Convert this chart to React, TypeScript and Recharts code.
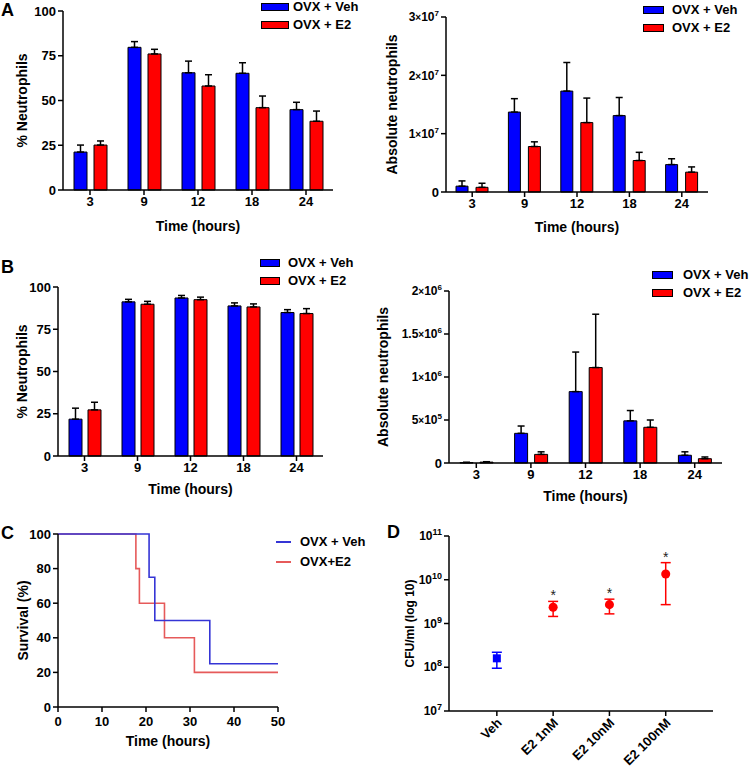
import { Bar, BarChart, ErrorBar, Line, LineChart, Scatter, ScatterChart, XAxis, YAxis, ZAxis } from 'recharts'

const hours = ['3', '9', '12', '18', '24']
const groupNames = ['OVX + Veh', 'OVX + E2']
const barColors = ['#0000ff', '#ff0000']

// A: % and absolute neutrophils (blood)
const pctVehA = [21.2, 79.7, 65.5, 65.2, 44.9]
const pctVehErrA = [3.9, 3.2, 6.5, 5.9, 4.1]
const pctE2A = [25.1, 76, 58.1, 46, 38.4]
const pctE2ErrA = [2.3, 2.6, 6.3, 6.5, 5.7]
const absVehA = [0.1e7, 1.37e7, 1.73e7, 1.31e7, 0.47e7]
const absVehErrA = [0.09e7, 0.23e7, 0.49e7, 0.31e7, 0.1e7]
const absE2A = [0.08e7, 0.78e7, 1.19e7, 0.54e7, 0.34e7]
const absE2ErrA = [0.07e7, 0.08e7, 0.42e7, 0.14e7, 0.09e7]

// B: % and absolute neutrophils (lavage)
const pctVehB = [21.8, 91.2, 93.5, 88.8, 84.9]
const pctVehErrB = [6.5, 1.5, 1.5, 1.8, 1.7]
const pctE2B = [27.3, 89.8, 92.5, 88.2, 84.3]
const pctE2ErrB = [4.5, 1.7, 1.5, 1.8, 2.9]
const absVehB = [0.05e5, 3.45e5, 8.3e5, 4.9e5, 0.9e5]
const absVehErrB = [0.03e5, 0.85e5, 4.6e5, 1.2e5, 0.4e5]
const absE2B = [0.1e5, 1.0e5, 11.1e5, 4.15e5, 0.5e5]
const absE2ErrB = [0.05e5, 0.3e5, 6.2e5, 0.85e5, 0.2e5]

// C: survival
const survivalNames = ['OVX + Veh', 'OVX+E2']
const survivalColors = ['#3535d5', '#e65a5a']
const vehTimes = [0, 20.7, 22, 34.5, 50]
const vehSurvival = [100, 75, 50, 25, 25]
const e2Times = [0, 17.7, 18.5, 24.2, 31, 50]
const e2Survival = [100, 80, 60, 40, 20, 20]

// D: CFU/ml
const cfuGroups = ['Veh', 'E2 1nM', 'E2 10nM', 'E2 100nM']
const cfuMean = [1.6e8, 2.35e9, 2.7e9, 1.35e10]
const cfuLow = [0.95e8, 1.45e9, 1.66e9, 2.7e9]
const cfuHigh = [2.2e8, 3.2e9, 3.6e9, 2.46e10]
const cfuSignificant = [false, true, true, true]

const barRows = (veh: number[], vehErr: number[], e2: number[], e2Err: number[]) =>
  hours.map((h, i) => ({ h, veh: veh[i], vehErr: [0, vehErr[i]], e2: e2[i], e2Err: [0, e2Err[i]] }))

const cfuRows = cfuGroups.map((g, i) => ({ i, cfu: cfuMean[i], err: [cfuMean[i] - cfuLow[i], cfuHigh[i] - cfuMean[i]], sig: cfuSignificant[i] }))
const vehCfu = cfuRows.filter((r) => r.i === 0)
const e2Cfu = cfuRows.filter((r) => r.i > 0)
const stars = cfuRows.filter((r) => r.sig).map((r) => ({ i: r.i, cfu: cfuHigh[r.i] }))

const axisLine = { stroke: '#000', strokeWidth: 1.5 }
const tickFont = { fill: '#000', fontSize: 13, fontWeight: 'bold' }
const titleStyle = (size = 14) => ({ textAnchor: 'middle', fontSize: size, fontWeight: 'bold', fill: '#000' })

function SciTick({ x, y, payload }: any) {
  const v = payload.value
  if (v === 0) {
    return <text x={x} y={y} dy="0.35em" textAnchor="end" fontSize={13} fontWeight="bold" fill="#000">0</text>
  }
  const exp = Math.floor(Math.log10(v) + 1e-9)
  const mant = Number((v / 10 ** exp).toFixed(2))
  return (
    <text x={x} y={y} dy="0.35em" textAnchor="end" fontSize={12} fontWeight="bold" fill="#000">
      {mant}
      <tspan fontSize={10}>×</tspan>10
      <tspan dy={-5} fontSize={8}>{exp}</tspan>
    </text>
  )
}

function PowerTick({ x, y, payload }: any) {
  const exp = Math.round(Math.log10(payload.value))
  return (
    <text x={x} y={y} dy="0.35em" textAnchor="end" fontSize={12} fontWeight="bold" fill="#000">
      10<tspan dy={-5} fontSize={9}>{exp}</tspan>
    </text>
  )
}

function GroupTick({ x, y, payload }: any) {
  return (
    <g transform={`translate(${x},${y})`}>
      <text x={0} y={0} dy={8} textAnchor="end" transform="rotate(-45)" fontSize={13} fontWeight="bold" fill="#000">
        {cfuGroups[payload.value]}
      </text>
    </g>
  )
}

function Star({ cx, cy }: any) {
  return <text x={cx} y={cy - 1} textAnchor="middle" fontSize={14} fill="#222">*</text>
}

function SeriesLegend({ x, w, rows, textX, names, colors, line }: any) {
  return (
    <>
      {names.map((n: string, k: number) => (
        <div key={n}>
          <div
            style={{
              position: 'absolute', left: x, top: rows[k] - (line ? 1 : 4), width: w, height: line ? 2 : 6,
              background: colors[k], border: line ? 'none' : '1px solid #000',
            }}
          />
          <div style={{ position: 'absolute', left: textX, top: rows[k] - 8, fontSize: 13, fontWeight: 'bold', lineHeight: '16px', whiteSpace: 'nowrap' }}>{n}</div>
        </div>
      ))}
    </>
  )
}

function PanelLetter({ x, y, t }: { x: number; y: number; t: string }) {
  return <div style={{ position: 'absolute', left: x, top: y, fontSize: 18, fontWeight: 'bold', lineHeight: 1 }}>{t}</div>
}

type BarPanelProps = {
  left: number; top: number; width: number; height: number
  margin: { top: number; right: number }
  yWidth: number; xHeight: number; xTitleBase: number
  data: any[]; ticks: number[]; sci?: boolean
  yTitle: string; yTitleX: number; barSize: number; barGap: number
}

function BarPanel(p: BarPanelProps) {
  return (
    <div style={{ position: 'absolute', left: p.left, top: p.top }}>
      <BarChart width={p.width} height={p.height} data={p.data} barSize={p.barSize} barGap={p.barGap} margin={{ top: p.margin.top, right: p.margin.right, left: 0, bottom: 0 }}>
        <XAxis
          dataKey="h" height={p.xHeight} tickSize={5} tick={tickFont} tickLine={axisLine} axisLine={axisLine}
          label={{ value: 'Time (hours)', position: 'insideBottom', offset: p.xHeight - p.xTitleBase, style: titleStyle() }}
        />
        <YAxis
          width={p.yWidth} domain={[p.ticks[0], p.ticks[p.ticks.length - 1]]} ticks={p.ticks} interval={0} tickSize={5}
          tick={p.sci ? <SciTick /> : tickFont} tickLine={axisLine} axisLine={axisLine}
          label={{ value: p.yTitle, angle: -90, position: 'insideLeft', offset: p.yTitleX, style: titleStyle() }}
        />
        <Bar dataKey="veh" fill={barColors[0]} stroke="#000" strokeWidth={1} isAnimationActive={false}>
          <ErrorBar dataKey="vehErr" direction="y" width={3.5} stroke="#000" strokeWidth={1.5} />
        </Bar>
        <Bar dataKey="e2" fill={barColors[1]} stroke="#000" strokeWidth={1} isAnimationActive={false}>
          <ErrorBar dataKey="e2Err" direction="y" width={3.5} stroke="#000" strokeWidth={1.5} />
        </Bar>
      </BarChart>
    </div>
  )
}

export default function App() {
  const vehLine = vehTimes.map((t, i) => ({ t, s: vehSurvival[i] }))
  const e2Line = e2Times.map((t, i) => ({ t, s: e2Survival[i] }))
  return (
    <div style={{ position: 'absolute', left: 0, top: 0, width: 750, height: 767, background: '#fff', fontFamily: "'Liberation Sans', Arial, sans-serif", color: '#000' }}>
      <BarPanel
        left={0} top={0} width={345} height={240} margin={{ top: 11, right: 12 }} yWidth={63} xHeight={50} xTitleBase={41}
        data={barRows(pctVehA, pctVehErrA, pctE2A, pctE2ErrA)} ticks={[0, 25, 50, 75, 100]}
        yTitle="% Neutrophils" yTitleX={22} barSize={13} barGap={7}
      />
      <BarPanel
        left={375} top={0} width={375} height={245} margin={{ top: 17, right: 42 }} yWidth={71} xHeight={53} xTitleBase={40}
        data={barRows(absVehA, absVehErrA, absE2A, absE2ErrA)} ticks={[0, 1e7, 2e7, 3e7]} sci
        yTitle="Absolute neutrophils" yTitleX={17} barSize={12} barGap={8}
      />
      <BarPanel
        left={0} top={250} width={345} height={250} margin={{ top: 37, right: 22 }} yWidth={58} xHeight={44} xTitleBase={38}
        data={barRows(pctVehB, pctVehErrB, pctE2B, pctE2ErrB)} ticks={[0, 25, 50, 75, 100]}
        yTitle="% Neutrophils" yTitleX={22} barSize={13} barGap={6}
      />
      <BarPanel
        left={375} top={250} width={375} height={260} margin={{ top: 41, right: 28 }} yWidth={74} xHeight={47} xTitleBase={38}
        data={barRows(absVehB, absVehErrB, absE2B, absE2ErrB)} ticks={[0, 5e5, 1e6, 1.5e6, 2e6]} sci
        yTitle="Absolute neutrophils" yTitleX={8} barSize={13} barGap={7}
      />

      <div style={{ position: 'absolute', left: 0, top: 510 }}>
        <LineChart width={375} height={257} margin={{ top: 24, right: 97, left: 0, bottom: 0 }}>
          <XAxis
            type="number" dataKey="t" domain={[0, 50]} ticks={[0, 10, 20, 30, 40, 50]} height={60} tickSize={5} tickMargin={5}
            tick={tickFont} tickLine={axisLine} axisLine={axisLine}
            label={{ value: 'Time (hours)', position: 'insideBottom', offset: 60 - 39, style: titleStyle() }}
          />
          <YAxis
            type="number" domain={[0, 100]} ticks={[0, 20, 40, 60, 80, 100]} width={58} tickSize={5}
            tick={tickFont} tickLine={axisLine} axisLine={axisLine}
            label={{ value: 'Survival (%)', angle: -90, position: 'insideLeft', offset: 23, style: titleStyle() }}
          />
          <Line data={e2Line} dataKey="s" type="stepAfter" stroke={survivalColors[1]} strokeWidth={1.6} dot={false} isAnimationActive={false} />
          <Line data={vehLine} dataKey="s" type="stepAfter" stroke={survivalColors[0]} strokeWidth={1.6} dot={false} isAnimationActive={false} />
        </LineChart>
      </div>

      <div style={{ position: 'absolute', left: 375, top: 510 }}>
        <ScatterChart width={375} height={257} margin={{ top: 26, right: 37, left: 0, bottom: 0 }}>
          <XAxis
            type="number" dataKey="i" domain={[-0.85, 3.84]} ticks={[0, 1, 2, 3]} interval={0} height={56} tickSize={5}
            tick={<GroupTick />} tickLine={axisLine} axisLine={axisLine}
          />
          <YAxis
            type="number" dataKey="cfu" scale="log" domain={[1e7, 1e11]} ticks={[1e7, 1e8, 1e9, 1e10, 1e11]} interval={0}
            allowDataOverflow width={74} tickSize={5} tick={<PowerTick />} tickLine={axisLine} axisLine={axisLine}
            label={{ value: 'CFU/ml (log 10)', angle: -90, position: 'insideLeft', offset: 35, style: titleStyle(12) }}
          />
          <ZAxis range={[80, 80]} />
          <Scatter data={vehCfu} fill="#0000ff" shape="square" isAnimationActive={false}>
            <ErrorBar dataKey="err" direction="y" width={5} stroke="#0000ff" strokeWidth={1.5} />
          </Scatter>
          <Scatter data={e2Cfu} fill="#ff0000" shape="circle" isAnimationActive={false}>
            <ErrorBar dataKey="err" direction="y" width={5} stroke="#ff0000" strokeWidth={1.5} />
          </Scatter>
          <Scatter data={stars} shape={<Star />} isAnimationActive={false} />
        </ScatterChart>
      </div>

      <SeriesLegend x={261} w={26} rows={[7, 25]} textX={293} names={groupNames} colors={barColors} />
      <SeriesLegend x={643} w={19} rows={[10, 28]} textX={672} names={groupNames} colors={barColors} />
      <SeriesLegend x={260} w={18} rows={[263, 281]} textX={288} names={groupNames} colors={barColors} />
      <SeriesLegend x={652} w={19} rows={[275, 293]} textX={683} names={groupNames} colors={barColors} />
      <SeriesLegend x={276} w={15} rows={[542, 562]} textX={300} names={survivalNames} colors={survivalColors} line />

      <PanelLetter x={1} y={1} t="A" />
      <PanelLetter x={1} y={258} t="B" />
      <PanelLetter x={1} y={524} t="C" />
      <PanelLetter x={387} y={523} t="D" />
    </div>
  )
}
